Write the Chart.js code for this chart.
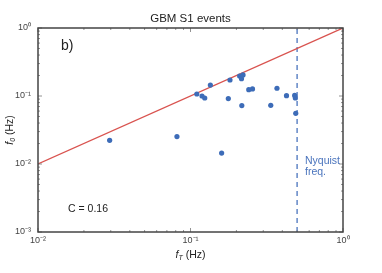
<!DOCTYPE html>
<html>
<head>
<meta charset="utf-8">
<script src="https://cdn.jsdelivr.net/npm/chart.js@4/dist/chart.umd.min.js"></script>
<style>
html,body{margin:0;padding:0;background:#fff;}
#wrap{width:382px;height:273px;position:relative;}
</style>
</head>
<body>
<div id="wrap"><canvas id="c" width="382" height="273"></canvas></div>
<script>
// Data
const fT = [0.0295, 0.0815, 0.160, 0.110, 0.119, 0.124, 0.135, 0.177, 0.1815, 0.210, 0.216, 0.221, 0.217, 0.241, 0.255, 0.336, 0.369, 0.426, 0.482, 0.487, 0.490];
const f0 = [0.0223, 0.0253, 0.0145, 0.107, 0.100, 0.0935, 0.145, 0.0916, 0.172, 0.197, 0.180, 0.204, 0.0722, 0.124, 0.127, 0.073, 0.130, 0.101, 0.102, 0.0935, 0.0557];
const fitLineX = [0.01, 1];
const fitLineY = [0.01, 1];
const nyquistFreq = 0.5;
const yRange = [0.001, 1];
const xRange = [0.01, 1];
const xTickLabels = {0.01: '10\u207B\u00B2', 0.1: '10\u207B\u00B9', 1: '10\u2070'};
const yTickLabels = {0.001: '10\u207B\u00B3', 0.01: '10\u207B\u00B2', 0.1: '10\u207B\u00B9', 1: '10\u2070'};
const titleText = 'GBM S1 events';
const panelText = 'b)';
const cText = 'C = 0.16';
const nyqText = ['Nyquist', 'freq.'];

const FONT = '"Liberation Sans", Arial, sans-serif';

function labelFor(map, v) {
  for (const k in map) { if (Math.abs(Math.log10(v) - Math.log10(+k)) < 1e-6) return map[k]; }
  return '';
}

const decor = {
  id: 'decor',
  afterDatasetsDraw(chart) {
    const ctx = chart.ctx, a = chart.chartArea;
    const xs = chart.scales.x, ys = chart.scales.y;
    ctx.save();
    // inward ticks
    ctx.strokeStyle = '#777';
    ctx.lineWidth = 0.8;
    for (let e = -2; e <= 0; e++) {
      for (let k = 1; k <= 9; k++) {
        const v = k * Math.pow(10, e);
        if (v > 1.0001) break;
        const px = xs.getPixelForValue(v);
        const len = k === 1 ? 4 : 2;
        ctx.beginPath();
        ctx.moveTo(px, a.bottom); ctx.lineTo(px, a.bottom - len);
        ctx.moveTo(px, a.top); ctx.lineTo(px, a.top + len);
        ctx.stroke();
      }
    }
    for (let e = -3; e <= 0; e++) {
      for (let k = 1; k <= 9; k++) {
        const v = k * Math.pow(10, e);
        if (v > 1.0001) break;
        const py = ys.getPixelForValue(v);
        const len = k === 1 ? 4 : 2;
        ctx.beginPath();
        ctx.moveTo(a.left, py); ctx.lineTo(a.left + len, py);
        ctx.moveTo(a.right, py); ctx.lineTo(a.right - len, py);
        ctx.stroke();
      }
    }
    // frame
    ctx.strokeStyle = '#444';
    ctx.lineWidth = 1.5;
    ctx.strokeRect(a.left, a.top, a.right - a.left, a.bottom - a.top);

    // texts
    ctx.fillStyle = '#222';
    ctx.textBaseline = 'middle';
    ctx.textAlign = 'center';
    ctx.font = '11.5px ' + FONT;
    ctx.fillText(titleText, (a.left + a.right) / 2, 19);

    ctx.textAlign = 'left';
    ctx.font = '14px ' + FONT;
    ctx.fillText(panelText, 61, 46);

    ctx.font = '10.5px ' + FONT;
    ctx.fillText(cText, 68, 209);

    ctx.fillStyle = '#4a74bd';
    ctx.fillText(nyqText[0], 305, 161);
    ctx.fillText(nyqText[1], 305, 172);

    // x axis title: f_T (Hz)
    ctx.fillStyle = '#222';
    const drawSubLabel = (sub) => {
      ctx.font = 'italic 10.5px ' + FONT;
      const w1 = ctx.measureText('f').width;
      ctx.font = 'italic 7px ' + FONT;
      const w2 = ctx.measureText(sub).width;
      ctx.font = '10.5px ' + FONT;
      const w3 = ctx.measureText(' (Hz)').width;
      return [w1, w2, w3];
    };
    {
      const [w1, w2, w3] = drawSubLabel('T');
      const tot = w1 + w2 + w3;
      let x = (a.left + a.right) / 2 - tot / 2;
      const y = 255;
      ctx.textAlign = 'left';
      ctx.font = 'italic 10.5px ' + FONT;
      ctx.fillText('f', x, y); x += w1;
      ctx.font = 'italic 7px ' + FONT;
      ctx.fillText('T', x, y + 3); x += w2;
      ctx.font = '10.5px ' + FONT;
      ctx.fillText(' (Hz)', x, y);
    }
    {
      const [w1, w2, w3] = drawSubLabel('0');
      const tot = w1 + w2 + w3;
      ctx.save();
      ctx.translate(10, (a.top + a.bottom) / 2);
      ctx.rotate(-Math.PI / 2);
      let x = -tot / 2;
      ctx.textAlign = 'left';
      ctx.font = 'italic 10.5px ' + FONT;
      ctx.fillText('f', x, 0); x += w1;
      ctx.font = 'italic 7px ' + FONT;
      ctx.fillText('0', x, 3); x += w2;
      ctx.font = '10.5px ' + FONT;
      ctx.fillText(' (Hz)', x, 0);
      ctx.restore();
    }
    ctx.restore();
  }
};

new Chart(document.getElementById('c'), {
  type: 'scatter',
  data: {
    datasets: [
      {
        type: 'line',
        data: fitLineX.map((x, i) => ({x, y: fitLineY[i]})),
        borderColor: '#d9534f',
        borderWidth: 1.3,
        pointRadius: 0,
        fill: false,
        order: 2
      },
      {
        type: 'line',
        data: [{x: nyquistFreq, y: yRange[0]}, {x: nyquistFreq, y: yRange[1]}],
        borderColor: '#4a74bd',
        borderWidth: 1.3,
        borderDash: [5, 4],
        pointRadius: 0,
        fill: false,
        order: 3
      },
      {
        data: fT.map((x, i) => ({x, y: f0[i]})),
        backgroundColor: '#3d6cb8',
        borderColor: '#3d6cb8',
        pointRadius: 2.6,
        borderWidth: 0,
        order: 1
      }
    ]
  },
  options: {
    responsive: false,
    animation: false,
    layout: {padding: {top: 28, right: 39, left: 0, bottom: 0}},
    plugins: {legend: {display: false}, tooltip: {enabled: false}, title: {display: false}},
    scales: {
      x: {
        type: 'logarithmic',
        min: xRange[0], max: xRange[1],
        grid: {display: false, drawTicks: false},
        border: {display: false},
        ticks: {
          autoSkip: false, maxRotation: 0, padding: 3,
          color: '#444', font: {family: FONT, size: 9},
          callback: (v) => labelFor(xTickLabels, v)
        },
        afterFit: (s) => { s.height = 41; }
      },
      y: {
        type: 'logarithmic',
        min: yRange[0], max: yRange[1],
        grid: {display: false, drawTicks: false},
        border: {display: false},
        ticks: {
          autoSkip: false, padding: 7,
          color: '#444', font: {family: FONT, size: 9},
          callback: (v) => labelFor(yTickLabels, v)
        },
        afterFit: (s) => { s.width = 38; }
      }
    }
  },
  plugins: [decor]
});
</script>
</body>
</html>
